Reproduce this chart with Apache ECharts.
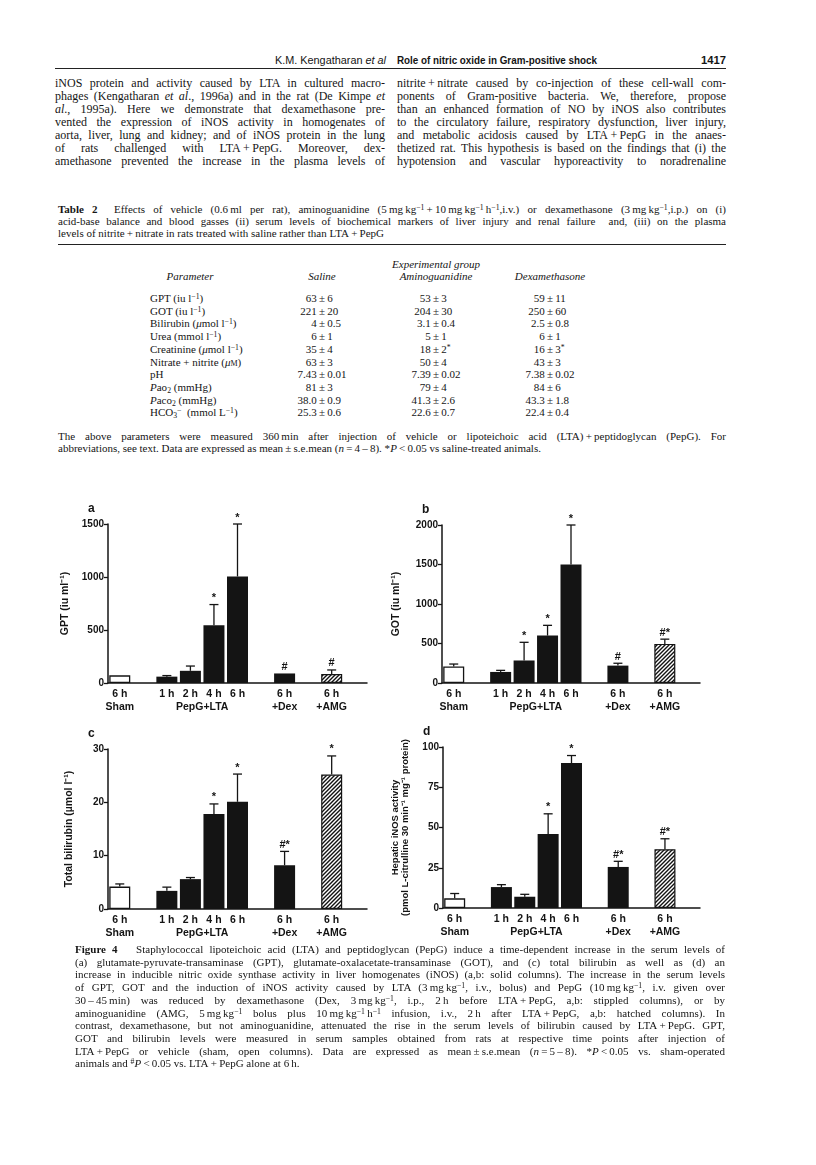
<!DOCTYPE html>
<html>
<head>
<meta charset="utf-8">
<script src="https://cdn.jsdelivr.net/npm/echarts/dist/echarts.min.js"></script>
<style>
html, body { margin: 0; padding: 0; background: #fff; }
#page { position: relative; width: 816px; height: 1165px; overflow: hidden;
  font-family: "Liberation Serif", "Times New Roman", serif; color: #151515; }
.ln { position: absolute; white-space: nowrap; }
.body { font-size: 12px; line-height: 13px; }
.small { font-size: 11px; line-height: 12px; }
.hdr { font-family: "Liberation Sans", Arial, sans-serif; font-size: 11.5px; line-height: 13px; transform-origin: 0 50%; }
sup { font-size: 70%; vertical-align: 0.45em; line-height: 0; }
sub { font-size: 70%; vertical-align: -0.2em; line-height: 0; }
.rule { position: absolute; background: #222; height: 1px; }
.cell { position: absolute; white-space: nowrap; font-size: 11px; line-height: 12px; }
.val { position: absolute; display: grid; grid-template-columns: 1fr auto 1fr; width: 90px; font-size: 11px; line-height: 12px; white-space: nowrap; }
.val span:first-child { text-align: right; }
#fig { position: absolute; left: 0; top: 490px; width: 816px; height: 460px; }
</style>
</head>
<body>
<div id="page"><div id="fig"></div></div>
<script>
// ---- figure data ----
var slots = ['sham', 'gap1', 'h1', 'h2', 'h4', 'h6', 'gap2', 'dex', 'gap3', 'amg', 'gap4'];
var timeLabels = ['6 h', '', '1 h', '2 h', '4 h', '6 h', '', '6 h', '', '6 h', ''];
var groupLabels = ['Sham', '', '', '', '', '', '', '+Dex', '', '+AMG', ''];
var barSlot = [0, 2, 3, 4, 5, 7, 9];
var barKind = ['open', 'solid', 'solid', 'solid', 'solid', 'solid', 'hatch'];

var gptMean = [72, 60, 115, 545, 1005, 90, 85];
var gptSem  = [0, 10, 45, 195, 495, 0, 38];
var gptSig  = ['', '', '', '*', '*', '#', '#'];

var gotMean = [210, 140, 285, 600, 1500, 220, 495];
var gotSem  = [30, 20, 230, 130, 500, 30, 60];
var gotSig  = ['', '', '*', '*', '*', '#', '#*'];

var biliMean = [4.2, 3.4, 5.6, 17.8, 20.1, 8.2, 25.2];
var biliSem  = [0.5, 0.7, 0.3, 1.9, 5.2, 2.6, 3.5];
var biliSig  = ['', '', '', '*', '*', '#*', '*'];

var inosMean = [6, 13, 7, 46, 90, 25.5, 36.5];
var inosSem  = [3, 1.5, 1.5, 12.5, 4.7, 3.5, 6.5];
var inosSig  = ['', '', '', '*', '*', '#*', '#*'];

// ---- table data ----
var tableParams = ['GPT (iu l<sup>−1</sup>)', 'GOT (iu l<sup>−1</sup>)', 'Bilirubin (<i>μ</i>mol l<sup>−1</sup>)',
  'Urea (mmol l<sup>−1</sup>)', 'Creatinine (<i>μ</i>mol l<sup>−1</sup>)', 'Nitrate + nitrite (<i>μ</i><span style="font-variant:small-caps">m</span>)',
  'pH', '<i>P</i>ao<sub>2</sub> (mmHg)', '<i>P</i>aco<sub>2</sub> (mmHg)', 'HCO<sub>3</sub><sup>−</sup>&nbsp; (mmol L<sup>−1</sup>)'];
var salineCol = ['63±6', '221±20', '4±0.5', '6±1', '35±4', '63±3', '7.43±0.01', '81±3', '38.0±0.9', '25.3±0.6'];
var aminoCol  = ['53±3', '204±30', '3.1±0.4', '5±1', '18±2*', '50±4', '7.39±0.02', '79±4', '41.3±2.6', '22.6±0.7'];
var dexaCol   = ['59±11', '250±60', '2.5±0.8', '6±1', '16±3*', '43±3', '7.38±0.02', '84±6', '43.3±1.8', '22.4±0.4'];

// ---- text ----
var pm = '&#8201;+&#8201;';
var bodyLeft = [
  'iNOS protein and activity caused by LTA in cultured macro-',
  'phages (Kengatharan <i>et al</i>., 1996a) and in the rat (De Kimpe <i>et</i>',
  '<i>al</i>., 1995a). Here we demonstrate that dexamethasone pre-',
  'vented the expression of iNOS activity in homogenates of',
  'aorta, liver, lung and kidney; and of iNOS protein in the lung',
  'of rats challenged with LTA' + pm + 'PepG. Moreover, dex-',
  'amethasone prevented the increase in the plasma levels of'
];
var bodyRight = [
  'nitrite' + pm + 'nitrate caused by co-injection of these cell-wall com-',
  'ponents of Gram-positive bacteria. We, therefore, propose',
  'than an enhanced formation of NO by iNOS also contributes',
  'to the circulatory failure, respiratory dysfunction, liver injury,',
  'and metabolic acidosis caused by LTA' + pm + 'PepG in the anaes-',
  'thetized rat. This hypothesis is based on the findings that (i) the',
  'hypotension and vascular hyporeactivity to noradrenaline'
];
var mgkg = '&#8201;mg&#8201;kg<sup>−1</sup>';
var tableCaption = [
  '<b>Table 2</b>&nbsp; Effects of vehicle (0.6&#8201;ml per rat), aminoguanidine (5' + mgkg + pm + '10' + mgkg + '&#8201;h<sup>−1</sup>,i.v.) or dexamethasone (3' + mgkg + ',i.p.) on (i)',
  'acid-base balance and blood gasses (ii) serum levels of biochemical markers of liver injury and renal failure&nbsp; and, (iii) on the plasma',
  'levels of nitrite' + pm + 'nitrate in rats treated with saline rather than LTA' + pm + 'PepG'
];
var tableFoot = [
  'The above parameters were measured 360&#8201;min after injection of vehicle or lipoteichoic acid (LTA)' + pm + 'peptidoglycan (PepG). For',
  'abbreviations, see text. Data are expressed as mean&#8201;±&#8201;s.e.mean (<i>n</i>&#8201;=&#8201;4&#8201;–&#8201;8). *<i>P</i>&#8201;&lt;&#8201;0.05 vs saline-treated animals.'
];
var figCaption = [
  '<b>Figure 4</b>&nbsp;&nbsp; Staphylococcal lipoteichoic acid (LTA) and peptidoglycan (PepG) induce a time-dependent increase in the serum levels of',
  '(a) glutamate-pyruvate-transaminase (GPT), glutamate-oxalacetate-transaminase (GOT), and (c) total bilirubin as well as (d) an',
  'increase in inducible nitric oxide synthase activity in liver homogenates (iNOS) (a,b: solid columns). The increase in the serum levels',
  'of GPT, GOT and the induction of iNOS activity caused by LTA (3' + mgkg + ', i.v., bolus) and PepG (10' + mgkg + ', i.v. given over',
  '30&#8201;–&#8201;45&#8201;min) was reduced by dexamethasone (Dex, 3' + mgkg + ', i.p., 2&#8201;h before LTA' + pm + 'PepG, a,b: stippled columns), or by',
  'aminoguanidine (AMG, 5' + mgkg + ' bolus plus 10' + mgkg + '&#8201;h<sup>−1</sup> infusion, i.v., 2&#8201;h after LTA' + pm + 'PepG, a,b: hatched columns). In',
  'contrast, dexamethasone, but not aminoguanidine, attenuated the rise in the serum levels of bilirubin caused by LTA' + pm + 'PepG. GPT,',
  'GOT and bilirubin levels were measured in serum samples obtained from rats at respective time points after injection of',
  'LTA' + pm + 'PepG or vehicle (sham, open columns). Data are expressed as mean&#8201;±&#8201;s.e.mean (<i>n</i>&#8201;=&#8201;5&#8201;–&#8201;8). *<i>P</i>&#8201;&lt;&#8201;0.05 vs. sham-operated',
  'animals and <sup>#</sup><i>P</i>&#8201;&lt;&#8201;0.05 vs. LTA' + pm + 'PepG alone at 6&#8201;h.'
];

var page = document.getElementById('page');

// one line of text; justified lines get their word spacing stretched to the width
function put(html, x, top, w, cls, justify, align) {
  var d = document.createElement('div');
  d.className = 'ln ' + cls;
  d.style.left = x + 'px';
  d.style.top = top + 'px';
  d.innerHTML = '<span>' + html + '</span>';
  page.appendChild(d);
  var sp = d.firstChild;
  var nat = sp.getBoundingClientRect().width;
  if (justify) {
    var n = (sp.textContent.match(/[ \u00a0]/g) || []).length;
    if (n) sp.style.wordSpacing = ((w - nat) / n) + 'px';
  } else if (align === 'right') {
    d.style.left = (x - nat) + 'px';
  } else if (align === 'center') {
    d.style.left = (x - nat / 2) + 'px';
  }
  return d;
}
function block(lines, x, top, step, w, cls, lastJustified) {
  lines.forEach(function (t, i) {
    put(t, x, top + i * step, w, cls, lastJustified || i < lines.length - 1);
  });
}
// running-head text squeezed to the condensed width of the original
function squeeze(html, x0, x1, top) {
  var d = put(html, x0, top, 0, 'hdr');
  var nat = d.firstChild.getBoundingClientRect().width;
  d.style.transform = 'scaleX(' + ((x1 - x0) / nat) + ')';
}
function rule(x, y, w, h) {
  var r = document.createElement('div');
  r.className = 'rule';
  r.style.left = x + 'px'; r.style.top = y + 'px'; r.style.width = w + 'px'; r.style.height = (h || 1) + 'px';
  page.appendChild(r);
}

// running head
squeeze('K.M. Kengatharan <i>et al</i>', 275, 386, 54);
squeeze('<b>Role of nitric oxide in Gram-positive shock</b>', 397, 597, 54);
squeeze('<b>1417</b>', 701, 726, 54);
rule(55, 68, 671, 1);

// body columns
block(bodyLeft, 55, 77, 13, 330, 'body', true);
block(bodyRight, 397, 77, 13, 329, 'body', true);

// table
block(tableCaption, 58, 203, 12, 668, 'small', false);
rule(58, 244, 668, 1.3);
put('<i>Experimental group</i>', 436, 258, 0, 'small', false, 'center');
put('<i>Parameter</i>', 190, 270, 0, 'small', false, 'center');
put('<i>Saline</i>', 322, 270, 0, 'small', false, 'center');
put('<i>Aminoguanidine</i>', 436, 270, 0, 'small', false, 'center');
put('<i>Dexamethasone</i>', 550, 270, 0, 'small', false, 'center');
function val(txt, cx, top) {
  var parts = txt.split('±');
  var right = parts[1].replace('*', '<sup>*</sup>');
  var d = document.createElement('div');
  d.className = 'val';
  d.style.left = (cx - 45) + 'px'; d.style.top = top + 'px';
  d.innerHTML = '<span>' + parts[0] + '</span><span>&#8201;±&#8201;</span><span>' + right + '</span>';
  page.appendChild(d);
}
tableParams.forEach(function (p, i) {
  var top = 292 + i * 12.7;
  put(p, 150, top, 0, 'cell');
  val(salineCol[i], 322, top);
  val(aminoCol[i], 436, top);
  val(dexaCol[i], 550, top);
});
block(tableFoot, 58, 430, 12, 668, 'small', false);

// figure caption
block(figCaption, 75, 943, 12.7, 650, 'small', false);

// ---- chart ----
var hatch = document.createElement('canvas');
hatch.width = 4; hatch.height = 4;
var hc = hatch.getContext('2d');
hc.fillStyle = '#fff'; hc.fillRect(0, 0, 4, 4);
hc.strokeStyle = '#111'; hc.lineWidth = 1.4;
hc.beginPath();
hc.moveTo(0, 4); hc.lineTo(4, 0);
hc.moveTo(-1, 1); hc.lineTo(1, -1);
hc.moveTo(3, 5); hc.lineTo(5, 3);
hc.stroke();

var ink = '#141414';
var sans = '"Liberation Sans", Arial, sans-serif';
function barStyle(kind) {
  if (kind === 'open') return { color: '#fff', borderColor: ink, borderWidth: 1.3 };
  if (kind === 'hatch') return { color: { image: hatch, repeat: 'repeat' }, borderColor: ink, borderWidth: 1.2 };
  return { color: ink };
}

var panels = [
  { mean: gptMean, sem: gptSem, sig: gptSig, max: 1500, step: 500, name: 'GPT (iu ml⁻¹)', nameGap: 38,
    letter: 'a', grid: { left: 108, top: 34, width: 259, height: 159 } },
  { mean: gotMean, sem: gotSem, sig: gotSig, max: 2000, step: 500, name: 'GOT (iu ml⁻¹)', nameGap: 41,
    letter: 'b', grid: { left: 442, top: 35, width: 258, height: 158 } },
  { mean: biliMean, sem: biliSem, sig: biliSig, max: 30, step: 10, name: 'Total bilirubin (µmol l⁻¹)', nameGap: 34,
    letter: 'c', grid: { left: 108, top: 259, width: 259, height: 160 } },
  { mean: inosMean, sem: inosSem, sig: inosSig, max: 100, step: 25,
    name: 'Hepatic iNOS activity\n(pmol L-citrulline 30 min⁻¹ mg⁻¹ protein)', nameGap: 33,
    letter: 'd', grid: { left: 443, top: 257, width: 257, height: 161 } }
];

function errorBars(sig) {
  return function (params, api) {
    var x = api.value(0), m = api.value(1), e = api.value(2);
    var base = api.coord([x, m]);
    var top = api.coord([x, m + e]);
    var kids = [];
    if (e > 0) {
      kids.push({ type: 'line', shape: { x1: base[0], y1: base[1], x2: top[0], y2: top[1] }, style: { stroke: ink, lineWidth: 1.3 } });
      kids.push({ type: 'line', shape: { x1: top[0] - 4.5, y1: top[1], x2: top[0] + 4.5, y2: top[1] }, style: { stroke: ink, lineWidth: 1.3 } });
    }
    var s = sig[params.dataIndex];
    if (s) {
      kids.push({ type: 'text', x: top[0], y: top[1] - 1,
        style: { text: s, font: 'bold 11px ' + sans, fill: ink, align: 'center', verticalAlign: 'bottom' } });
    }
    return { type: 'group', children: kids };
  };
}

var grids = [], xAxes = [], yAxes = [], series = [];
panels.forEach(function (p, i) {
  grids.push(p.grid);
  xAxes.push({
    gridIndex: i, type: 'category', data: slots,
    axisLine: { lineStyle: { color: ink, width: 1.5 } },
    axisTick: { show: false },
    axisLabel: {
      interval: 0, margin: 5,
      formatter: function (v, k) {
        return groupLabels[k] ? '{t|' + timeLabels[k] + '}\n{t|' + groupLabels[k] + '}' : '{t|' + timeLabels[k] + '}';
      },
      rich: { t: { fontFamily: sans, fontWeight: 'bold', fontSize: 10.5, lineHeight: 13, color: ink } }
    }
  });
  yAxes.push({
    gridIndex: i, type: 'value', min: 0, max: p.max, interval: p.step,
    splitLine: { show: false },
    axisLine: { show: true, lineStyle: { color: ink, width: 1.5 } },
    axisTick: { show: true, length: 4, lineStyle: { color: ink, width: 1.3 } },
    axisLabel: { color: ink, fontFamily: sans, fontWeight: 'bold', fontSize: 10, margin: 4,
      formatter: function (v) { return String(v); } },
    name: p.name, nameLocation: 'middle', nameGap: p.nameGap, nameRotate: 90,
    nameTextStyle: { color: ink, fontFamily: sans, fontWeight: 'bold', fontSize: i === 3 ? 9.5 : 10.5, lineHeight: 10 }
  });
  series.push({
    type: 'bar', xAxisIndex: i, yAxisIndex: i, barWidth: 21,
    data: p.mean.map(function (v, k) { return { value: [barSlot[k], v], itemStyle: barStyle(barKind[k]) }; })
  });
  series.push({
    type: 'custom', xAxisIndex: i, yAxisIndex: i, z: 5,
    data: p.mean.map(function (v, k) { return [barSlot[k], v, p.sem[k]]; }),
    renderItem: errorBars(p.sig)
  });
});

var chart = echarts.init(document.getElementById('fig'), null, { renderer: 'canvas' });
chart.setOption({ animation: false, grid: grids, xAxis: xAxes, yAxis: yAxes, series: series });

// panel letters and the group label under 1 h - 6 h
var graphics = [];
panels.forEach(function (p, i) {
  graphics.push({ type: 'text', left: p.grid.left - 20, top: p.grid.top - 21,
    style: { text: p.letter, font: 'bold 12px ' + sans, fill: ink } });
  var xa = chart.convertToPixel({ xAxisIndex: i }, 'h2');
  var xb = chart.convertToPixel({ xAxisIndex: i }, 'h4');
  var y0 = chart.convertToPixel({ yAxisIndex: i }, 0);
  graphics.push({ type: 'text', x: (xa + xb) / 2, y: y0 + 5 + 13 * 1.5,
    style: { text: 'PepG+LTA', font: 'bold 10.5px ' + sans, fill: ink, align: 'center', verticalAlign: 'middle' } });
});
chart.setOption({ graphic: graphics });
</script>
</body>
</html>
